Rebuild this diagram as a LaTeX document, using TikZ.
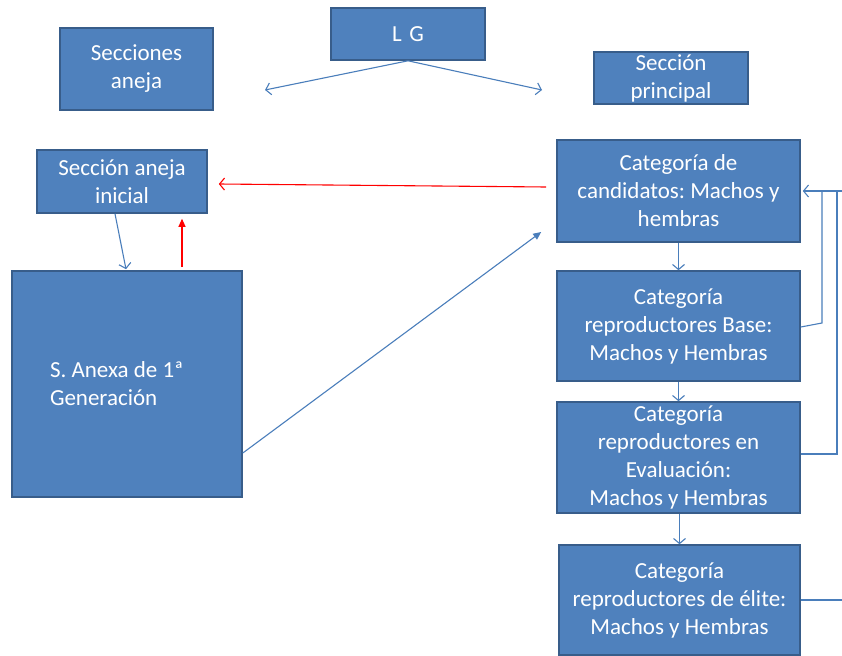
\documentclass[tikz,border=0pt]{standalone}
\usepackage{fontspec}
\setmainfont{Carlito}
\usetikzlibrary{arrows.meta}
\definecolor{boxfill}{HTML}{4F81BD}
\definecolor{boxline}{HTML}{385D8A}
\definecolor{conn}{HTML}{4A7EBB}
\definecolor{redc}{HTML}{FF0000}
\frenchspacing
\tikzset{
  box/.style={draw=boxline, fill=boxfill, line width=1.6pt, text=white, inner sep=0pt,
    align=center, font=\fontsize{23}{28}\selectfont\frenchspacing},
  conline/.style={draw=conn, line width=1.1pt},
  openhead/.style={-{Straight Barb[length=5pt,width=12pt,line width=1.1pt]}},
  fillhead/.style={-{Triangle[length=8pt,width=7pt]}},
}
\begin{document}
\begin{tikzpicture}[x=1pt,y=-1pt]
\useasboundingbox (0,0) rectangle (842,655);
\clip (0,0) rectangle (842,655);
\fill[white] (0,0) rectangle (842,655);

\node[box, minimum width=154, minimum height=52] (lg) at (408,34) {L\,\,G};
\node[box, minimum width=153, minimum height=82] (sa) at (136.5,69) {Secciones\\aneja};
\node[box, minimum width=154, minimum height=52] (sp) at (671,78) {Sección\\principal};
\node[box, minimum width=170, minimum height=63] (sai) at (122,181.5) {Sección aneja\\inicial};
\node[box, minimum width=230, minimum height=226, align=flush left, text width=154, inner xsep=38] (s1) at (127,384) {S. Anexa de 1ª\\Generación};
\node[box, minimum width=243, minimum height=102] (cc) at (678.5,191) {Categoría de\\candidatos: Machos y\\hembras};
\node[box, minimum width=243, minimum height=110] (cb) at (678.5,326) {Categoría\\reproductores Base:\\Machos y Hembras};
\node[box, minimum width=243, minimum height=111] (ce) at (678.5,457.5) {Categoría\\reproductores en\\Evaluación:\\Machos y Hembras};
\node[box, minimum width=241, minimum height=110] (cel) at (679.5,600) {Categoría\\reproductores de élite:\\Machos y Hembras};

\coordinate (lgl) at (265,90);
\coordinate (lgr) at (542,90);
\coordinate (fbA) at (822,191);
\coordinate (fbB) at (837,191);
\coordinate (fbC) at (845,191);
\coordinate (fbD) at (845,600);

\draw[conline, openhead] (lg.south) -- (lgl);
\draw[conline, openhead] (lg.south) -- (lgr);

\draw[draw=redc, line width=1.1pt, openhead] ([shift={(-10,-4)}]cc.west) -- ([shift={(11,2.5)}]sai.east);
\draw[draw=redc, line width=1.1pt, fillhead] ([shift={(55,-3)}]s1.north) -- ([shift={(60,5)}]sai.south);

\draw[conline, openhead] ([xshift=-7]sai.south) -- ([shift={(-1,-1)}]s1.north);
\draw[conline, fillhead] ([shift={(0,69)}]s1.east) -- ([shift={(-15,41)}]cc.west);

\draw[conline, openhead] (cc.south) -- (cb.north);
\draw[conline, openhead] (cb.south) -- (ce.north);
\draw[conline, openhead] ([xshift=1]ce.south) -- (cel.north);

\draw[conline] ([shift={(0,1)}]cb.east) -- (822,323) -- (fbA);
\draw[conline] ([shift={(0,-3.5)}]ce.east) -- (837,454) -- (fbB);
\draw[conline, openhead] (cel.east) -- (fbD) -- (fbC) -- ([xshift=2]cc.east);
\end{tikzpicture}
\end{document}
